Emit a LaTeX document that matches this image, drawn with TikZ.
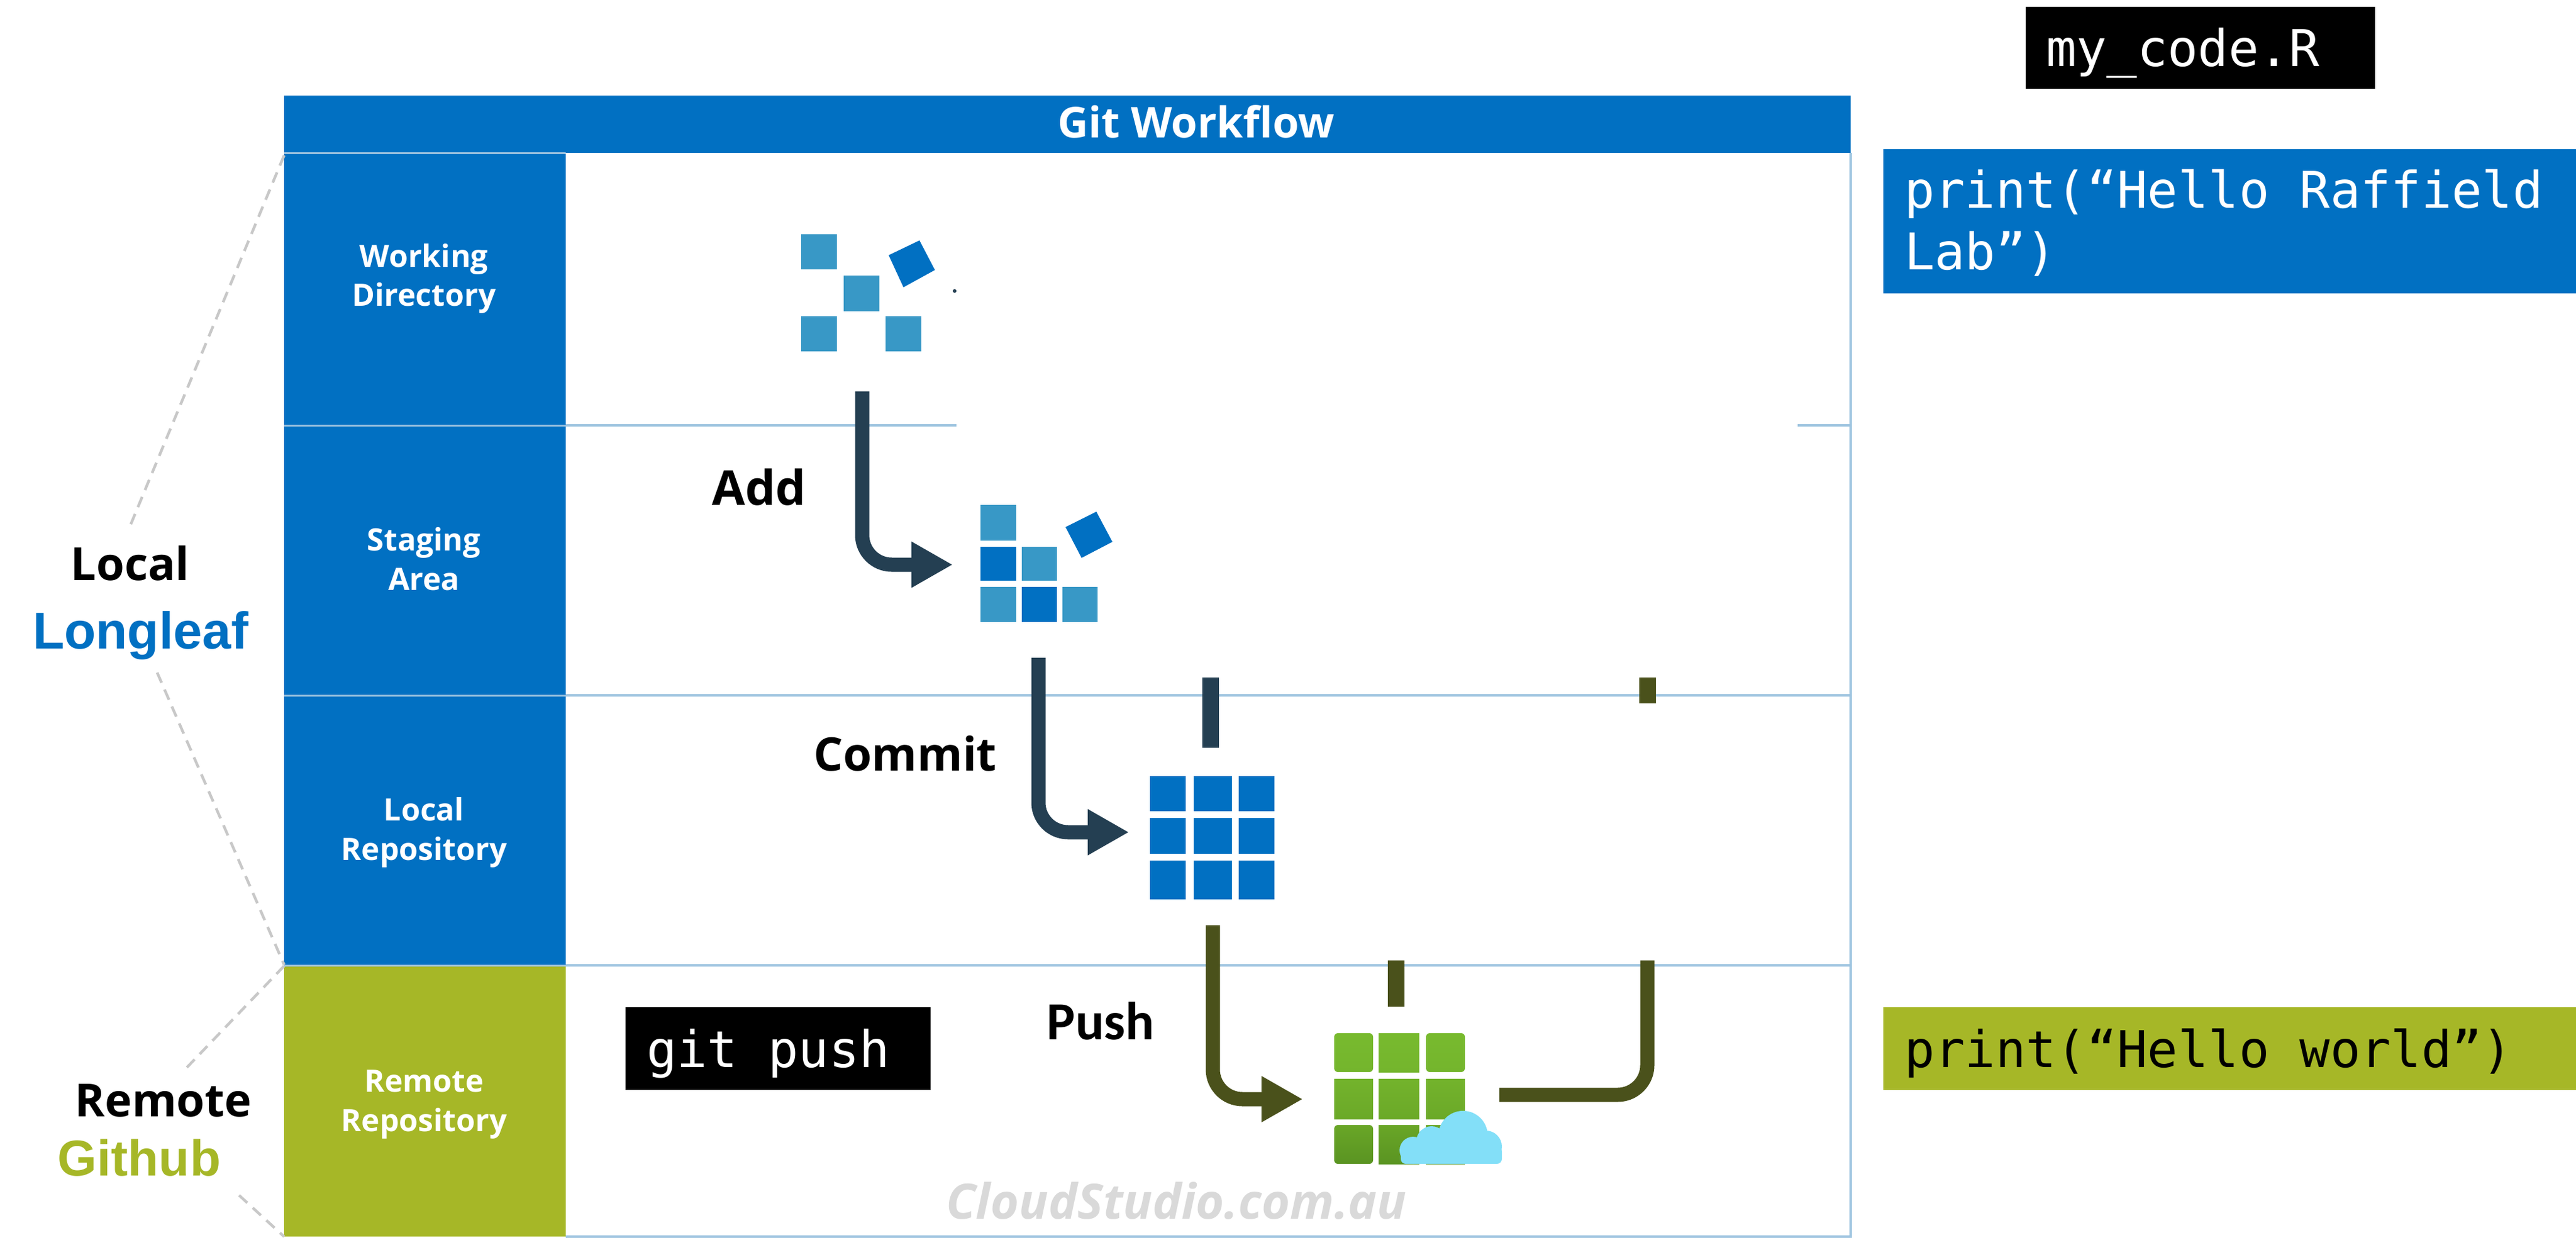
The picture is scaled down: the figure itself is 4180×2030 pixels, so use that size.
\documentclass[tikz,border=0pt]{standalone}
\usepackage{fontspec}
\setmainfont{Open Sans}
\newfontfamily\arialf{Liberation Sans}
\newfontfamily\carlitof{Carlito}
\newfontfamily\codef{DejaVu Sans Mono}
\usetikzlibrary{arrows.meta,calc}
\definecolor{gitblue}{HTML}{0170C2}
\definecolor{lightsq}{HTML}{3898C6}
\definecolor{olivebar}{HTML}{A6B727}
\definecolor{darkflow}{HTML}{243F52}
\definecolor{oliveflow}{HTML}{4A511B}
\definecolor{rule}{HTML}{9CC3DF}
\definecolor{dashgrey}{HTML}{C8C8C8}
\definecolor{cloud}{HTML}{83DFF8}
\definecolor{gra}{HTML}{78BA2E}
\definecolor{grb}{HTML}{74B52D}
\definecolor{grc}{HTML}{73B32C}
\definecolor{grd}{HTML}{6BA928}
\definecolor{gre}{HTML}{69A627}
\definecolor{grf}{HTML}{5A9422}
\newcommand\pxsize[1]{\fontsize{#1pt}{#1pt}\selectfont}
\tikzset{
  x=0.5pt,y=-0.5pt,
  band/.style={fill=gitblue,draw=none,inner sep=0pt,outer sep=0pt},
  sidelabel/.style={text=white,align=center,inner sep=0pt,font=\bfseries\pxsize{25}},
  codebox/.style={inner sep=0pt,outer sep=0pt,draw=none},
  codetext/.style={anchor=base west,inner sep=0pt,outer sep=0pt,font=\codef\pxsize{41}},
  stepname/.style={text=black,inner sep=0pt,font=\bfseries\pxsize{39}},
  rowrule/.style={draw=rule,line width=2pt},
  guide/.style={draw=dashgrey,line width=2.2pt,dash pattern=on 9pt off 6pt},
  flowline/.style={line width=11.5pt,rounded corners=24pt,line cap=butt},
  darkarrow/.style={flowline,draw=darkflow,-{Triangle[length=33.5pt,width=35pt]},darkflow},
  olivearrow/.style={flowline,draw=oliveflow,-{Triangle[length=33.5pt,width=35pt]},oliveflow},
  oliveplain/.style={flowline,draw=oliveflow},
  stub/.style={line width=13.5pt,line cap=butt},
}
\newcommand\cell[5]{\fill[#1] (#2,#3) rectangle (#4,#5);}
\newcommand\gcell[7]{\shade[top color=#1,bottom color=#2,rounded corners=#7] (#3,#4) rectangle (#5,#6);}
\begin{document}
\begin{tikzpicture}
\useasboundingbox (0,0) rectangle (4180,2030);
\fill[white] (0,0) rectangle (4180,2030);

% frame and rows
\coordinate (rowAleft) at (918,690);
\coordinate (rowAgapL) at (1552,690);
\coordinate (rowAgapR) at (2917,690);
\coordinate (rowAright) at (3003,690);
\coordinate (rowBleft) at (918,1128);
\coordinate (rowBright) at (3003,1128);
\coordinate (rowCleft) at (918,1566);
\coordinate (rowCright) at (3003,1566);
\coordinate (frameTR) at (3003,248);
\coordinate (frameBR) at (3003,2006);
\coordinate (frameBL) at (918,2006);
\draw[rowrule] (rowAleft) -- (rowAgapL);
\draw[rowrule] (rowAgapR) -- (rowAright);
\draw[rowrule] (rowBleft) -- (rowBright);
\draw[rowrule] (rowCleft) -- (rowCright);
\draw[rowrule] (frameTR) -- (frameBR) -- (frameBL);
\fill[darkflow] (1549,472) circle (1.5pt);

% header and side column
\node[band,minimum width=1271pt,minimum height=46.5pt] (title) at (1732,201.5) {};
\node[text=white,font=\bfseries\pxsize{34.5},inner sep=0pt] (titletext) at (1941,197) {Git Workflow};

\fill[gitblue] (461,248) rectangle (918,1566);
\fill[olivebar] (461,1566) rectangle (918,2006);
\draw[draw=rule,line width=1.5pt] (461,690) -- (918,690);
\draw[draw=rule,line width=1.5pt] (461,1128) -- (918,1128);
\draw[draw=rule,line width=1.5pt] (461,248) -- (918,248);
\draw[draw=rule,line width=1.5pt] (461,1566) -- (918,1566);
\node[sidelabel] (wd) at (688,452) {Working\\[7pt]Directory};
\node[sidelabel] (sa) at (688,907) {Staging\\[7pt]Area};
\node[sidelabel] (lr) at (688,1350) {Local\\[7pt]Repository};
\node[sidelabel] (rr) at (688,1792) {Remote\\[7pt]Repository};

% left labels
\node[inner sep=0pt,anchor=base,font=\bfseries\pxsize{37}] (local) at (211,941) {Local};
\node[inner sep=0pt,anchor=base,text=gitblue,font=\arialf\bfseries\pxsize{42}] (longleaf) at (228,1052) {Longleaf};
\node[inner sep=0pt,anchor=base,font=\bfseries\pxsize{37}] (remote) at (265,1811) {Remote};
\node[inner sep=0pt,anchor=base,text=olivebar,font=\arialf\bfseries\pxsize{41}] (github) at (226,1907) {Github};

\coordinate (g1a) at (461,252); \coordinate (g1b) at (212,851);
\coordinate (g2a) at (255,1091); \coordinate (g2b) at (461,1565);
\coordinate (g3a) at (461,1567); \coordinate (g3b) at (300,1735);
\coordinate (g4a) at (388,1939); \coordinate (g4b) at (461,2006);
\draw[guide] (g1a) -- (g1b);
\draw[guide] (g2a) -- (g2b);
\draw[guide] (g3a) -- (g3b);
\draw[guide] (g4a) -- (g4b);

% working directory icon
\cell{lightsq}{1300}{380}{1358}{437}
\cell{lightsq}{1369}{447}{1427}{505}
\cell{lightsq}{1300}{513}{1358}{570}
\cell{lightsq}{1437}{513}{1495}{570}
\fill[gitblue] (1492,390) -- (1517,438) -- (1466,466) -- (1442,414) -- cycle;

% staging icon
\cell{lightsq}{1591}{819}{1649}{877}
\cell{gitblue}{1591}{887}{1649}{942}
\cell{lightsq}{1658}{887}{1715}{942}
\cell{lightsq}{1591}{952}{1649}{1009}
\cell{gitblue}{1658}{952}{1715}{1009}
\cell{lightsq}{1724}{952}{1781}{1009}
\fill[gitblue] (1779,830) -- (1805,879) -- (1755,905) -- (1729,855) -- cycle;

% local repo icon
\cell{gitblue}{1866}{1259}{1924}{1316}
\cell{gitblue}{1937}{1259}{1999}{1316}
\cell{gitblue}{2010}{1259}{2068}{1316}
\cell{gitblue}{1866}{1327}{1924}{1385}
\cell{gitblue}{1937}{1327}{1999}{1385}
\cell{gitblue}{2010}{1327}{2068}{1385}
\cell{gitblue}{1866}{1396}{1924}{1459}
\cell{gitblue}{1937}{1396}{1999}{1459}
\cell{gitblue}{2010}{1396}{2068}{1459}

% remote repo icon
\gcell{gra}{grb}{2165}{1676}{2228}{1739}{3pt}
\gcell{gra}{grb}{2237}{1676}{2303}{1739}{0pt}
\gcell{gra}{grb}{2314}{1676}{2377}{1739}{3pt}
\gcell{grc}{grd}{2165}{1750}{2228}{1815}{0pt}
\gcell{grc}{grd}{2237}{1750}{2303}{1815}{0pt}
\gcell{grc}{grd}{2314}{1750}{2377}{1815}{0pt}
\gcell{gre}{grf}{2165}{1825}{2228}{1888}{3pt}
\gcell{gre}{grf}{2237}{1825}{2303}{1888}{0pt}
\gcell{gre}{grf}{2314}{1825}{2377}{1888}{0pt}
\fill[cloud] (2374,1842) circle (20pt);
\fill[cloud] (2293,1866) circle (11pt);
\fill[cloud] (2323,1852) circle (12.5pt);
\fill[cloud] (2411,1860) circle (13pt);
\fill[cloud,rounded corners=4pt] (2273,1860) rectangle (2437,1888);

% connectors
\coordinate (addA) at (1399,635); \coordinate (addB) at (1546,916);
\coordinate (comA) at (1685,1067); \coordinate (comB) at (1832,1350);
\coordinate (pushA) at (1968,1501); \coordinate (pushB) at (2114,1783);
\coordinate (ret1) at (2673,1558); \coordinate (ret2) at (2433,1776);
\coordinate (st1a) at (1964,1099); \coordinate (st1b) at (1964,1213);
\coordinate (st2a) at (2673,1099); \coordinate (st2b) at (2673,1141);
\coordinate (st3a) at (2265,1558); \coordinate (st3b) at (2265,1633);
\draw[darkarrow] (addA) |- (addB);
\draw[darkarrow] (comA) |- (comB);
\draw[olivearrow] (pushA) |- (pushB);
\draw[oliveplain] (ret1) |- (ret2);
\draw[stub,draw=darkflow] (st1a) -- (st1b);
\draw[stub,draw=oliveflow] (st2a) -- (st2b);
\draw[stub,draw=oliveflow] (st3a) -- (st3b);

% step labels
\node[stepname] (add) at (1232,790) {Add};
\node[stepname,font=\bfseries\pxsize{37.5}] (commit) at (1469,1222) {Commit};
\node[inner sep=0pt,anchor=base,font=\carlitof\bfseries\pxsize{43.5}] (push) at (1786,1686) {Push};
\node[inner sep=0pt,text=black!15,font=\bfseries\itshape\pxsize{39.5}] (mark) at (1909,1948) {CloudStudio.com.au};

% code boxes
\node[codebox,fill=black,minimum width=283.5pt,minimum height=66.5pt] (fname) at (3570.5,77.5) {};
\node[codetext,text=white] (fnamet) at (3320,107) {my\_code.R};
\node[codebox,fill=gitblue,minimum width=562pt,minimum height=117pt] (localcode) at (3618,359) {};
\node[codetext,text=white] (lc1) at (3090,337) {print(“Hello Raffield};
\node[codetext,text=white] (lc2) at (3090,437) {Lab”)};
\node[codebox,fill=black,minimum width=247.5pt,minimum height=67pt] (gitpush) at (1262.5,1701) {};
\node[codetext,text=white] (gitpusht) at (1049,1731) {git push};
\node[codebox,fill=olivebar,minimum width=562pt,minimum height=67pt] (remotecode) at (3618,1701) {};
\node[codetext,text=black] (rc) at (3090,1731) {print(“Hello world”)};
\end{tikzpicture}
\end{document}
